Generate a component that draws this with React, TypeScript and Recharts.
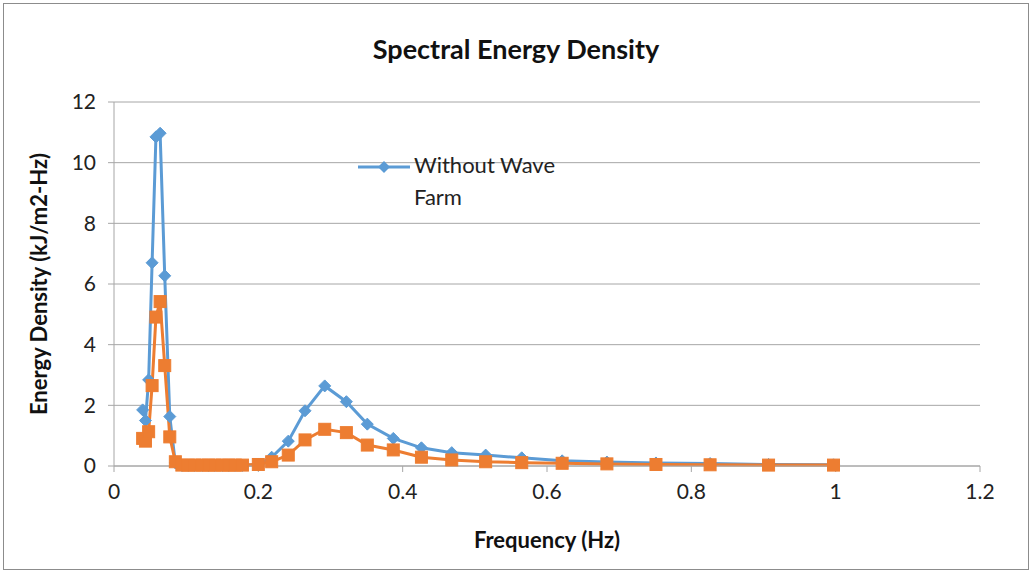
import React from 'react';
import { LineChart, Line, XAxis, YAxis, CartesianGrid, Legend } from 'recharts';

const freq = [
  0.0397, 0.0436, 0.048, 0.0528, 0.0581, 0.0639, 0.0703, 0.0773, 0.085,
  0.094, 0.103, 0.112, 0.122, 0.131, 0.14, 0.15, 0.159, 0.168, 0.178,
  0.2, 0.2185, 0.2415, 0.2647, 0.292, 0.322, 0.351, 0.387, 0.426, 0.468,
  0.515, 0.565, 0.621, 0.683, 0.751, 0.826, 0.907, 0.997,
];

const withoutFarm = [
  1.85, 1.5, 2.84, 6.7, 10.85, 10.97, 6.27, 1.63, 0.1,
  0.02, 0.02, 0.02, 0.02, 0.02, 0.02, 0.02, 0.02, 0.02, 0.02,
  0.05, 0.29, 0.82, 1.82, 2.64, 2.12, 1.38, 0.91, 0.6, 0.44,
  0.36, 0.27, 0.17, 0.13, 0.1, 0.08, 0.05, 0.04,
];

const withFarm = [
  0.91, 0.82, 1.13, 2.65, 4.91, 5.42, 3.31, 0.96, 0.14,
  0.03, 0.03, 0.03, 0.03, 0.03, 0.03, 0.03, 0.03, 0.03, 0.03,
  0.05, 0.14, 0.36, 0.86, 1.21, 1.1, 0.69, 0.53, 0.29, 0.2,
  0.14, 0.11, 0.09, 0.07, 0.05, 0.04, 0.03, 0.03,
];

const xTicks = [0, 0.2, 0.4, 0.6, 0.8, 1, 1.2];
const yTicks = [0, 2, 4, 6, 8, 10, 12];

const data = freq.map((f, i) => ({ f, a: withoutFarm[i], b: withFarm[i] }));

const BLUE = '#5B9BD5';
const ORANGE = '#ED7D31';
const FONT = "Lato, 'Open Sans', sans-serif";

const Diamond = (props: any) => {
  const { cx, cy } = props;
  if (cx == null || cy == null) return null;
  const r = 6;
  return <path d={`M${cx},${cy - r}L${cx + r},${cy}L${cx},${cy + r}L${cx - r},${cy}Z`} fill={BLUE} stroke={BLUE} />;
};

const Square = (props: any) => {
  const { cx, cy } = props;
  if (cx == null || cy == null) return null;
  const r = 6;
  return <rect x={cx - r} y={cy - r} width={2 * r} height={2 * r} fill={ORANGE} stroke={ORANGE} />;
};

const LegendBox = () => (
  <div style={{ display: 'flex', alignItems: 'flex-start', fontFamily: FONT, fontSize: 22, color: '#222' }}>
    <svg width={58} height={30} style={{ flexShrink: 0 }}>
      <line x1={2} y1={17} x2={54} y2={17} stroke={BLUE} strokeWidth={3} />
      <path d="M28,11L34,17L28,23L22,17Z" fill={BLUE} />
    </svg>
    <div style={{ width: 170, lineHeight: '32px', marginTop: -1, textAlign: 'left' }}>Without Wave Farm</div>
  </div>
);

export default function App() {
  return (
    <div
      style={{
        position: 'absolute',
        left: 3,
        top: 3,
        width: 1024,
        height: 565,
        border: '1px solid #8c8c8c',
        background: '#fff',
      }}
    >
      <div
        style={{
          position: 'absolute',
          top: 28,
          width: '100%',
          textAlign: 'center',
          fontFamily: FONT,
          fontWeight: 'bold',
          fontSize: 27,
          color: '#111',
        }}
      >
        Spectral Energy Density
      </div>
      <LineChart width={1024} height={565} data={data} margin={{ top: 98, right: 48, bottom: 73, left: 50 }}>
        <CartesianGrid vertical={false} stroke="#a6a6a6" strokeWidth={1} />
        <XAxis
          dataKey="f"
          type="number"
          domain={[0, 1.2]}
          ticks={xTicks}
          interval={0}
          tickFormatter={(v: number) => String(Number(v.toFixed(1)))}
          stroke="#a6a6a6"
          tickLine={{ stroke: '#a6a6a6' }}
          tickSize={6}
          tickMargin={12}
          height={30}
          tick={{ fill: '#222', fontSize: 21, fontFamily: FONT }}
          label={{ value: 'Frequency (Hz)', position: 'bottom', offset: 36, style: { fill: '#111', fontSize: 22, fontWeight: 'bold', fontFamily: FONT } }}
        />
        <YAxis
          type="number"
          domain={[0, 12]}
          ticks={yTicks}
          interval={0}
          width={60}
          stroke="#a6a6a6"
          tickLine={{ stroke: '#a6a6a6' }}
          tickSize={6}
          tickMargin={12}
          tick={{ fill: '#222', fontSize: 21, fontFamily: FONT }}
          label={{ value: 'Energy Density (kJ/m2-Hz)', angle: -90, position: 'insideLeft', offset: -15, style: { textAnchor: 'middle', fill: '#111', fontSize: 22, fontWeight: 'bold', fontFamily: FONT } }}
        />
        <Legend
          content={<LegendBox />}
          layout="horizontal"
          verticalAlign="middle"
          align="center"
          wrapperStyle={{ top: 146, left: 352, width: 240 }}
        />
        <Line
          type="linear"
          dataKey="a"
          name="Without Wave Farm"
          stroke={BLUE}
          strokeWidth={3}
          dot={<Diamond />}
          activeDot={false}
          isAnimationActive={false}
        />
        <Line
          type="linear"
          dataKey="b"
          name="With Wave Farm"
          stroke={ORANGE}
          strokeWidth={3}
          dot={<Square />}
          activeDot={false}
          isAnimationActive={false}
        />
      </LineChart>
    </div>
  );
}
